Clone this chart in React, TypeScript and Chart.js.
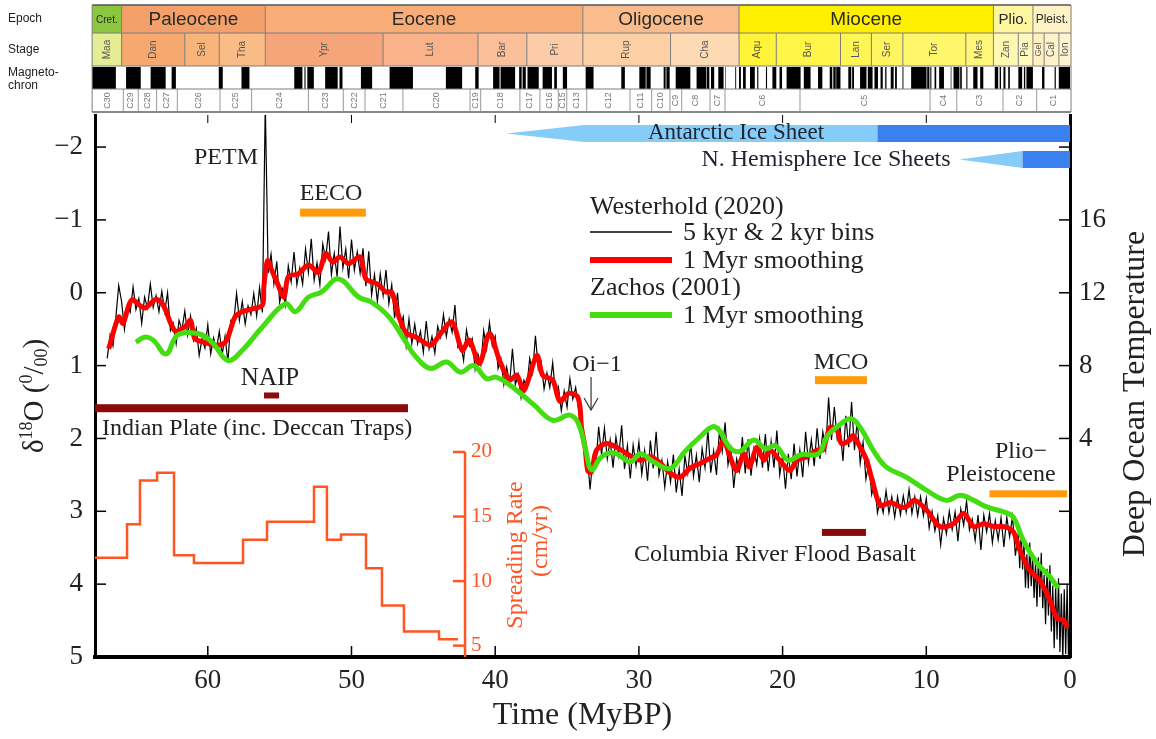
import React, { useEffect, useRef } from 'react';
import { Chart, registerables } from 'chart.js';

Chart.register(...registerables);

const SERIF = '"Liberation Serif", "Times New Roman", "DejaVu Serif", serif';
const SANS = '"Liberation Sans", Arial, "DejaVu Sans", sans-serif';

// ---------------- axes ----------------
const X_MIN = 0;
const X_MAX = 67.85;
const Y_MIN = -2.44;
const Y_MAX = 5;
const S_MIN = 4.12;
const S_MAX = 46.1;
const xTickValues = [60, 50, 40, 30, 20, 10];
const d18TickValues = [-2, -1, 0, 1, 2, 3, 4];
const tempTickAt = [-1, 0, 1, 2];
const tempTickLabels = ['16', '12', '8', '4'];
const spreadTicks = [5, 10, 15, 20];

// ---------------- Westerhold (2020) 5 kyr & 2 kyr bins ----------------
// sampled every 0.2 Myr from 67.0 to 3.6 Ma, then every 0.1 Myr from 3.5 to 0 Ma
const blackMainStart = 67.0;
const blackMainStep = 0.2;
const blackMainV = [
  // 67.0 - 56.2
  0.90, 0.58, 0.73, 0.34, -0.10, 0.12, 0.50, 0.19, 0.27, -0.08,
  0.23, 0.08, 0.42, 0.06, 0.21, -0.12, 0.20, 0.04, 0.26, -0.02,
  0.26, 0.00, 0.52, 0.42, 0.70, 0.38, 0.51, 0.25, 0.58, 0.32,
  0.65, 0.49, 0.86, 0.63, 0.76, 0.44, 0.84, 0.62, 0.78, 0.53,
  0.85, 0.60, 0.95, 0.38, 0.41, 0.01, 0.38, 0.12, 0.43, 0.18,
  0.30, 0.01, 0.32, -0.07, 0.27,
  // 56.0 - 46.0
  -2.60, -0.27, -0.53, -0.12, -0.43, 0.13, -0.05, 0.17, -0.37, -0.15,
  -0.56, -0.11, -0.34, -0.12, -0.60, -0.28, -0.74, -0.17, -0.41, -0.11,
  -0.67, -0.46, -0.84, -0.25, -0.54, -0.22, -0.91, -0.34, -0.60, -0.20,
  -0.73, -0.31, -0.56, -0.27, -0.61, -0.09, -0.57, 0.03, -0.25, 0.12,
  -0.26, 0.04, -0.31, 0.15, -0.11, 0.35, 0.00, 0.47, 0.33, 0.73,
  0.36,
  // 45.8 - 34.0
  0.70, 0.43, 0.70, 0.53, 0.82, 0.39, 0.77, 0.60, 0.83, 0.46,
  0.61, 0.30, 0.60, 0.36, 0.54, 0.17, 0.75, 0.70, 0.93, 0.51,
  0.73, 0.63, 1.05, 0.84, 0.99, 0.52, 0.77, 0.41, 0.73, 0.60,
  1.04, 0.91, 1.26, 1.02, 1.25, 0.77, 1.26, 1.12, 1.44, 1.20,
  1.30, 0.90, 1.10, 0.59, 1.05, 0.95, 1.32, 1.10, 1.30, 0.96,
  1.40, 1.29, 1.62, 1.35, 1.57, 1.18, 1.46, 1.30, 1.60, 1.65,
  // 33.8 - 14.0
  2.20, 2.20, 2.70, 2.26, 2.38, 1.84, 2.22, 1.86, 2.28, 2.02,
  2.40, 1.98, 2.24, 1.82, 2.42, 2.10, 2.55, 2.09, 2.37, 2.05,
  2.49, 2.17, 2.58, 2.03, 2.41, 1.91, 2.50, 2.30, 2.67, 2.32,
  2.60, 2.22, 2.74, 2.42, 2.79, 2.24, 2.48, 2.06, 2.52, 2.23,
  2.60, 2.14, 2.40, 1.88, 2.47, 2.17, 2.50, 1.90, 2.18, 1.78,
  2.36, 2.14, 2.68, 2.28, 2.45, 1.98, 2.48, 2.01, 2.51, 2.14,
  2.36, 2.00, 2.40, 1.94, 2.45, 2.04, 2.40, 1.89, 2.50, 2.24,
  2.69, 2.21, 2.56, 2.07, 2.52, 2.16, 2.53, 1.91, 2.33, 2.02,
  2.38, 1.86, 2.28, 1.91, 2.16, 1.44, 2.02, 1.57, 2.01, 1.85,
  2.31, 1.69, 2.12, 1.50, 2.16, 1.75, 2.34, 2.05, 2.56, 2.33,
  // 13.8 - 3.6
  2.77, 2.60, 3.02, 2.84, 3.02, 2.72, 3.02, 2.80, 3.08, 2.80,
  3.05, 2.79, 3.01, 2.70, 3.03, 2.80, 3.06, 2.80, 3.06, 2.82,
  3.23, 3.00, 3.27, 3.06, 3.46, 3.10, 3.31, 3.00, 3.25, 3.01,
  3.41, 2.97, 3.19, 2.86, 3.26, 3.11, 3.40, 3.05, 3.53, 3.05,
  3.28, 3.03, 3.43, 3.13, 3.39, 3.09, 3.49, 3.08, 3.35, 3.07,
  3.61, 3.30,
];
const blackFineStart = 3.5;
const blackFineStep = 0.1;
const blackFineV = [
  3.78, 3.28, 3.80, 3.44, 4.05, 3.59, 4.06, 3.43, 4.03, 3.60,
  4.19, 3.71, 4.31, 3.63, 4.18, 3.57, 4.33, 3.87, 4.55, 3.79,
  4.43, 3.74, 4.65, 4.02, 4.88, 4.03, 4.76, 3.92, 4.93, 4.13,
  5.05, 4.07, 4.96, 4.00, 5.07, 4.15,
];

// ---------------- Westerhold (2020) 1 Myr smoothing ----------------
const redT = [
  66.9, 66.2, 65.9, 65.3, 64.4, 63.6, 63.1, 62.3, 61.6, 61.2, 60.9, 60.2, 59.5, 58.9, 58.6, 58.1,
  57.6, 56.9, 56.2, 56.1, 55.85, 55.55, 55.2, 54.7, 54.4, 53.7, 53.0, 52.3, 51.8, 51.3, 50.8, 50.2,
  49.4, 49.0, 48.2, 47.6, 47.2, 46.7, 46.2, 45.5, 44.5, 43.8, 43.0, 42.3, 41.8, 41.1, 40.4, 39.7,
  39.0, 38.5, 38.0, 37.1, 36.7, 36.0, 35.5, 34.9, 34.3, 34.1, 34.0, 33.75, 33.55, 33.3, 32.95, 32.25,
  31.4, 30.5, 29.9, 29.2, 28.5, 27.8, 27.1, 26.4, 25.7, 25.05, 24.6, 24.1, 23.7, 23.2, 22.7, 22.3,
  21.8, 21.3, 20.9, 20.2, 19.5, 19.0, 18.3, 17.6, 17.2, 16.7, 16.2, 15.9, 15.3, 15.1, 14.6, 14.15,
  13.7, 13.2, 12.5, 11.8, 11.4, 10.8, 10.0, 9.05, 8.1, 7.4, 6.7, 6.0, 5.3, 4.6, 3.95, 3.5,
  2.8, 2.1, 1.4, 0.9, 0.45, 0.2,
];
const redV = [
  0.77, 0.33, 0.42, 0.10, 0.21, 0.09, 0.17, 0.52, 0.47, 0.38, 0.63, 0.68, 0.72, 0.70, 0.61, 0.33,
  0.26, 0.22, 0.17, -0.08, -0.44, -0.31, -0.15, 0.06, -0.22, -0.26, -0.38, -0.28, -0.54, -0.42, -0.49, -0.40,
  -0.49, -0.19, -0.12, -0.01, -0.01, 0.33, 0.55, 0.61, 0.72, 0.56, 0.40, 0.79, 0.65, 0.97, 0.56, 0.93,
  1.20, 1.13, 1.34, 0.86, 1.13, 1.20, 1.49, 1.38, 1.42, 1.57, 1.84, 2.12, 2.45, 2.46, 2.16, 2.07,
  2.14, 2.25, 2.30, 2.25, 2.34, 2.48, 2.53, 2.40, 2.34, 2.27, 2.23, 2.02, 2.23, 2.44, 2.21, 2.39,
  2.12, 2.30, 2.16, 2.30, 2.44, 2.30, 2.25, 2.16, 2.16, 1.85, 1.89, 2.07, 2.02, 1.96, 2.12, 2.30,
  2.62, 2.92, 2.88, 2.94, 2.94, 2.85, 2.98, 3.21, 3.17, 3.03, 3.21, 3.17, 3.21, 3.21, 3.28, 3.53,
  3.81, 3.95, 4.22, 4.47, 4.49, 4.60,
];

// ---------------- Zachos (2001) 1 Myr smoothing ----------------
const greenT = [
  65.0, 64.4, 63.8, 62.9, 62.1, 60.7, 59.7, 58.6, 57.6, 56.2, 54.6, 53.9, 53.0, 52.1, 50.9, 49.5,
  48.6, 47.4, 46.3, 45.6, 44.5, 43.4, 42.4, 41.5, 40.6, 39.9, 38.5, 37.3, 36.0, 34.8, 34.2, 33.7,
  33.3, 32.6, 31.7, 30.6, 29.9, 29.0, 27.8, 26.8, 25.7, 24.9, 24.4, 23.7, 23.0, 22.0, 21.2, 20.5,
  19.6, 18.7, 17.5, 16.9, 16.2, 15.25, 14.5, 13.7, 12.8, 11.4, 10.0, 8.6, 7.65, 6.7, 5.8, 4.6,
  3.95, 3.25, 2.3, 1.4, 0.8,
];
const greenV = [
  0.68, 0.61, 0.65, 0.84, 0.58, 0.56, 0.68, 0.93, 0.79, 0.47, 0.15, 0.26, 0.06, -0.01, -0.19, 0.06,
  0.13, 0.33, 0.65, 0.86, 1.04, 0.95, 1.09, 1.00, 1.18, 1.16, 1.34, 1.54, 1.75, 1.68, 1.80, 2.16,
  2.43, 2.25, 2.20, 2.32, 2.21, 2.32, 2.41, 2.18, 1.97, 1.84, 1.89, 2.12, 2.18, 2.02, 2.14, 2.10,
  2.30, 2.22, 2.21, 1.97, 1.84, 1.73, 1.88, 2.16, 2.39, 2.53, 2.71, 2.85, 2.78, 2.85, 2.94, 3.01,
  3.08, 3.40, 3.71, 3.90, 4.06,
];

// ---------------- Indian plate spreading rate (cm/yr) ----------------
// each value holds from its start time until the next start time
const spreadT = [67.85, 65.62, 64.72, 63.53, 62.35, 60.96, 57.55, 55.88, 52.61, 51.71, 50.73, 48.99, 47.88, 46.35, 43.91, 42.59];
const spreadV = [11.8, 14.4, 17.8, 18.4, 12.0, 11.4, 13.2, 14.6, 17.3, 13.2, 13.6, 11.0, 8.1, 6.1, 5.5, 5.5];

// ---------------- geologic time scale ----------------
const epochNames = ['Cret.', 'Paleocene', 'Eocene', 'Oligocene', 'Miocene', 'Plio.', 'Pleist.'];
const epochBounds = [68.05, 66.0, 56.0, 33.9, 23.03, 5.33, 2.58, -0.07];
const epochColors = ['#8CC63F', '#F4A06A', '#F8AC78', '#FABC8C', '#FFF000', '#FFF6A0', '#FFF3C6'];
const stageNames = ['Maa', 'Dan', 'Sel', 'Tha', 'Ypr', 'Lut', 'Bar', 'Pri', 'Rup', 'Cha', 'Aqu', 'Bur', 'Lan', 'Ser', 'Tor', 'Mes', 'Zan', 'Pia', 'Gel', 'Cal', 'Ion'];
const stageBounds = [68.05, 66.0, 61.6, 59.2, 56.0, 47.8, 41.2, 37.8, 33.9, 27.8, 23.03, 20.44, 15.97, 13.82, 11.63, 7.25, 5.33, 3.6, 2.58, 1.8, 0.77, -0.07];
const stageColors = ['#E4EC94', '#F6A86E', '#F8B47A', '#FABC86', '#F6A47A', '#F9B28A', '#FBC09A', '#FCCBA8', '#FDCFA4', '#FDD9B4', '#FFF43A', '#FFF448', '#FFF554', '#FFF560', '#FFF66C', '#FFF67A', '#FFF8B2', '#FFF9BE', '#FFF0C2', '#FFF2CA', '#FFF4D2'];
const chronNames = ['C30', 'C29', 'C28', 'C27', 'C26', 'C25', 'C24', 'C23', 'C22', 'C21', 'C20', 'C19', 'C18', 'C17', 'C16', 'C15', 'C13', 'C12', 'C11', 'C10', 'C9', 'C8', 'C7', 'C6', 'C5', 'C4', 'C3', 'C2', 'C1'];
const chronBounds = [68.05, 65.88, 64.84, 63.56, 62.12, 59.15, 56.95, 53.0, 50.57, 49.06, 46.42, 41.75, 41.01, 38.28, 36.89, 35.61, 35.02, 33.63, 30.62, 29.11, 27.84, 27.02, 25.05, 24.01, 18.79, 9.74, 7.88, 4.66, 2.32, -0.07];
const magNormal: [number, number][] = [
  [0, 0.781], [0.988, 1.072], [1.778, 1.945], [2.581, 3.032], [3.116, 3.207], [3.33, 3.596],
  [4.187, 4.3], [4.493, 4.631], [4.799, 4.896], [4.997, 5.235], [6.033, 6.252], [6.436, 6.733],
  [7.14, 7.212], [7.528, 7.642], [7.695, 8.108], [8.254, 8.3], [8.771, 9.105], [9.311, 9.426],
  [9.647, 9.721], [9.786, 9.937], [9.984, 11.056], [11.592, 11.657], [12.049, 12.174], [12.272, 12.474],
  [12.735, 12.77], [12.82, 12.878], [13.032, 13.183], [13.363, 13.608], [13.739, 14.07], [14.163, 14.609],
  [15.032, 15.16], [15.222, 15.427], [15.974, 16.268], [16.303, 16.472], [16.543, 16.721], [17.235, 17.533],
  [18.056, 18.524], [18.748, 19.722], [20.04, 20.213], [20.439, 20.709], [21.083, 21.159], [21.688, 21.767],
  [21.936, 22.268], [22.564, 22.754], [22.902, 23.03], [23.233, 23.295], [23.962, 24.0], [24.109, 24.474],
  [24.761, 24.984], [25.099, 25.264], [25.304, 25.987], [26.42, 27.439], [27.859, 28.087], [28.141, 28.278],
  [29.183, 29.477], [29.527, 29.97], [30.977, 31.225], [33.157, 33.705], [34.999, 35.294], [35.706, 35.892],
  [36.051, 36.7], [36.969, 37.753], [37.872, 38.093], [38.159, 38.333], [38.615, 39.627], [39.698, 40.145],
  [41.154, 41.39], [42.301, 43.432], [45.724, 47.349], [48.566, 49.344], [50.628, 50.835], [50.961, 51.833],
  [52.62, 53.074], [53.199, 53.274], [53.416, 53.983], [57.101, 57.656], [58.959, 59.237], [62.221, 62.517],
  [62.933, 63.978], [64.667, 65.688], [66.398, 68.05],
];

// ---------------- events (Ma) ----------------
const antarcticSheet = [39.2, 33.8, 13.4]; // tip, full width, permanent
const nhSheet = [7.7, 3.3];
const eecoRange = [53.58, 49.0];
const mcoRange = [17.75, 14.13];
const plioRange = [5.6, 0.2];
const naipRange = [56.09, 55.04];
const indianRange = [67.85, 46.07];
const columbiaRange = [17.26, 14.2];
const oi1Time = 33.33;
const spreadAxisTime = 42.1;

const pts = (t: number[], v: number[]) => t.map((x, i) => ({ x, y: v[i] }));

function txt(ctx: any, s: string, x: number, y: number, font: string, color: string, align: string = 'center') {
  ctx.font = font;
  ctx.fillStyle = color;
  ctx.textAlign = align;
  ctx.textBaseline = 'middle';
  ctx.fillText(s, x, y);
}
function vtxt(ctx: any, s: string, x: number, y: number, font: string, color: string) {
  ctx.save();
  ctx.translate(x, y);
  ctx.rotate(-Math.PI / 2);
  txt(ctx, s, 0, 0, font, color, 'center');
  ctx.restore();
}
function line(ctx: any, x0: number, y0: number, x1: number, y1: number, color: string, w: number) {
  ctx.beginPath();
  ctx.strokeStyle = color;
  ctx.lineWidth = w;
  ctx.moveTo(x0, y0);
  ctx.lineTo(x1, y1);
  ctx.stroke();
}

const decorPlugin = {
  id: 'decor',
  afterDraw(chart: any) {
    const ctx = chart.ctx;
    const xs = chart.scales.x;
    const ys = chart.scales.y;
    const ss = chart.scales.yS;
    const area = chart.chartArea;
    const X = (t: number) => xs.getPixelForValue(t);
    const Y = (d: number) => ys.getPixelForValue(d);
    ctx.save();

    // ---------- time scale band ----------
    const r0 = 5, r1 = 33, r2 = 66, r3 = 89, r4 = 112;
    const xL = X(68.05), xR = X(-0.07);
    ctx.fillStyle = '#fff';
    ctx.fillRect(xL, r2, xR - xL, r4 - r2);
    for (let i = 0; i < epochNames.length; i++) {
      const a = X(epochBounds[i]), b = X(epochBounds[i + 1]);
      ctx.fillStyle = epochColors[i];
      ctx.fillRect(a, r0, b - a, r1 - r0);
      const fs = i === 0 ? 10 : i === 5 ? 15 : i === 6 ? 12 : 19;
      txt(ctx, epochNames[i], (a + b) / 2, (r0 + r1) / 2 + 1, `${fs}px ${SANS}`, '#2a2a2a');
    }
    for (let i = 0; i < stageNames.length; i++) {
      const a = X(stageBounds[i]), b = X(stageBounds[i + 1]);
      ctx.fillStyle = stageColors[i];
      ctx.fillRect(a, r1, b - a, r2 - r1);
      vtxt(ctx, stageNames[i], (a + b) / 2, (r1 + r2) / 2, `${b - a < 12 ? 9 : 10}px ${SANS}`, '#555');
    }
    ctx.fillStyle = '#000';
    for (const [y0, o0] of magNormal) {
      const a = X(Math.min(o0, 68.05)), b = X(Math.max(y0, -0.07));
      ctx.fillRect(a, r2 + 1, b - a, r3 - r2 - 1);
    }
    for (let i = 0; i < chronNames.length; i++) {
      const a = X(chronBounds[i]), b = X(chronBounds[i + 1]);
      vtxt(ctx, chronNames[i], (a + b) / 2, (r3 + r4) / 2, `9px ${SANS}`, '#777');
      if (i > 0) line(ctx, a, r3, a, r4, '#999', 1);
    }
    const g = '#7d7d7d';
    line(ctx, xL, r0, xR, r0, '#555', 1.5);
    line(ctx, xL, r1, xR, r1, g, 1);
    line(ctx, xL, r2, xR, r2, g, 1);
    line(ctx, xL, r3, xR, r3, g, 1);
    line(ctx, xL, r4, xR, r4, '#888', 2);
    line(ctx, xL, r0, xL, r4, g, 1);
    line(ctx, xR, r0, xR, r4, g, 1);
    for (let i = 1; i < epochBounds.length - 1; i++) line(ctx, X(epochBounds[i]), r0, X(epochBounds[i]), r1, g, 1);
    for (let i = 1; i < stageBounds.length - 1; i++) line(ctx, X(stageBounds[i]), r1, X(stageBounds[i]), r2, g, 1);
    txt(ctx, 'Epoch', 8, 19, `12px ${SANS}`, '#222', 'left');
    txt(ctx, 'Stage', 8, 50, `12px ${SANS}`, '#222', 'left');
    txt(ctx, 'Magneto-', 8, 73, `12px ${SANS}`, '#222', 'left');
    txt(ctx, 'chron', 8, 86, `12px ${SANS}`, '#222', 'left');

    // ---------- ice sheets ----------
    const light = '#86CCF8', dark = '#3A80EE';
    const aT = 125, aB = 142, aM = (aT + aB) / 2;
    ctx.fillStyle = light;
    ctx.beginPath();
    ctx.moveTo(X(antarcticSheet[0]), aM);
    ctx.lineTo(X(antarcticSheet[1]), aT);
    ctx.lineTo(X(antarcticSheet[2]), aT);
    ctx.lineTo(X(antarcticSheet[2]), aB);
    ctx.lineTo(X(antarcticSheet[1]), aB);
    ctx.closePath();
    ctx.fill();
    ctx.fillStyle = dark;
    ctx.fillRect(X(antarcticSheet[2]), aT, area.right - X(antarcticSheet[2]), aB - aT);
    const nT = 151, nB = 168, nM = (nT + nB) / 2;
    ctx.fillStyle = light;
    ctx.beginPath();
    ctx.moveTo(X(nhSheet[0]), nM);
    ctx.lineTo(X(nhSheet[1]), nT);
    ctx.lineTo(X(nhSheet[1]), nB);
    ctx.closePath();
    ctx.fill();
    ctx.fillStyle = dark;
    ctx.fillRect(X(nhSheet[1]), nT, area.right - X(nhSheet[1]), nB - nT);
    txt(ctx, 'Antarctic Ice Sheet', 736, 133, `23px ${SERIF}`, '#1e2430');
    txt(ctx, 'N. Hemisphere Ice Sheets', 826, 160, `24px ${SERIF}`, '#1e2430');

    // ---------- event bars & labels ----------
    const orange = '#FF9A0A', maroon = '#8B0A0A';
    const bar = (r: number[], yc: number, h: number, c: string) => {
      ctx.fillStyle = c;
      ctx.fillRect(X(r[0]), yc - h / 2, X(r[1]) - X(r[0]), h);
    };
    bar(eecoRange, Y(-1.1), 8, orange);
    bar(mcoRange, Y(1.2), 8, orange);
    bar(plioRange, Y(2.76), 7, orange);
    bar(naipRange, Y(1.41), 6, maroon);
    bar(indianRange, Y(1.585), 8, maroon);
    bar(columbiaRange, Y(3.29), 7, maroon);
    const dk = '#222';
    txt(ctx, 'PETM', 226, 158, `24px ${SERIF}`, dk);
    txt(ctx, 'EECO', 331, 194, `24px ${SERIF}`, dk);
    txt(ctx, 'NAIP', 270, 378, `25px ${SERIF}`, dk);
    txt(ctx, 'Indian Plate (inc. Deccan Traps)', 102, 429, `24px ${SERIF}`, dk, 'left');
    txt(ctx, 'Oi\u22121', 597, 365, `24px ${SERIF}`, dk);
    txt(ctx, 'MCO', 841, 363, `24px ${SERIF}`, dk);
    txt(ctx, 'Columbia River Flood Basalt', 775, 555, `24px ${SERIF}`, dk);
    txt(ctx, 'Plio\u2212', 1021, 452, `24px ${SERIF}`, dk);
    txt(ctx, 'Pleistocene', 1001, 475, `24px ${SERIF}`, dk);
    const ox = X(oi1Time);
    line(ctx, ox, 377, ox, 409, '#333', 1.2);
    ctx.beginPath();
    ctx.moveTo(ox - 7, 398);
    ctx.lineTo(ox, 410);
    ctx.lineTo(ox + 7, 398);
    ctx.stroke();

    // ---------- legend ----------
    const lf = `26px ${SERIF}`;
    txt(ctx, 'Westerhold (2020)', 590, 207, lf, dk, 'left');
    line(ctx, 590, 232, 672, 232, '#000', 1.5);
    txt(ctx, '5 kyr & 2 kyr bins', 683, 233, lf, dk, 'left');
    line(ctx, 590, 260, 672, 260, '#FF0000', 6);
    txt(ctx, '1 Myr smoothing', 683, 261, lf, dk, 'left');
    txt(ctx, 'Zachos (2001)', 590, 288, lf, dk, 'left');
    line(ctx, 590, 315, 672, 315, '#44DD11', 6);
    txt(ctx, '1 Myr smoothing', 683, 316, lf, dk, 'left');

    // ---------- spreading-rate inset axis ----------
    const sc = '#FF5522';
    const sx = X(spreadAxisTime);
    line(ctx, sx, ss.getPixelForValue(20), sx, area.bottom, sc, 2.5);
    for (const v of spreadTicks) {
      const y = ss.getPixelForValue(v);
      line(ctx, sx - 12, y, sx, y, sc, 2.5);
      txt(ctx, String(v), sx + 6, y, `21px ${SERIF}`, sc, 'left');
    }
    vtxt(ctx, 'Spreading Rate', 516, 555, `24px ${SERIF}`, sc);
    vtxt(ctx, '(cm/yr)', 541, 541, `24px ${SERIF}`, sc);

    // ---------- inward tick marks ----------
    for (const v of d18TickValues) {
      line(ctx, area.left, Y(v), area.left + 11, Y(v), '#000', 1.5);
      line(ctx, area.right - 11, Y(v), area.right, Y(v), '#000', 1.5);
    }
    for (const t of xTickValues) {
      line(ctx, X(t), area.bottom, X(t), area.bottom - 11, '#000', 1.5);
      line(ctx, X(t), area.top, X(t), area.top + 8, '#000', 1);
    }

    // ---------- axis titles ----------
    ctx.save();
    ctx.translate(33, 396);
    ctx.rotate(-Math.PI / 2);
    const big = `29px ${SERIF}`, small = `18px ${SERIF}`;
    const parts: [string, string, number][] = [
      ['\u03b4', big, 0], ['18', small, -11], ['O (', big, 0], ['0', small, -11], ['/', big, 0], ['00', small, 4], [')', big, 0],
    ];
    let w = 0;
    for (const p of parts) { ctx.font = p[1]; w += ctx.measureText(p[0]).width; }
    let cx = -w / 2;
    ctx.fillStyle = dk;
    ctx.textAlign = 'left';
    ctx.textBaseline = 'alphabetic';
    for (const p of parts) {
      ctx.font = p[1];
      ctx.fillText(p[0], cx, 10 + p[2]);
      cx += ctx.measureText(p[0]).width;
    }
    ctx.restore();
    vtxt(ctx, 'Deep Ocean Temperature', 1136, 394, `32px ${SERIF}`, dk);

    ctx.restore();
  },
};

export default function App() {
  const ref = useRef<HTMLCanvasElement>(null);
  useEffect(() => {
    const blackT = [
      ...blackMainV.map((_, i) => Math.round((blackMainStart - blackMainStep * i) * 10) / 10),
      ...blackFineV.map((_, i) => Math.round((blackFineStart - blackFineStep * i) * 10) / 10),
    ];
    const blackV = [...blackMainV, ...blackFineV];
    const tickFont = { family: SERIF, size: 27 };
    const chart = new Chart(ref.current as HTMLCanvasElement, {
      type: 'line',
      data: {
        datasets: [
          { data: pts(greenT, greenV), borderColor: '#44DD11', borderWidth: 5, pointRadius: 0, tension: 0.4, xAxisID: 'x', yAxisID: 'y' },
          { data: pts(redT, redV), borderColor: '#FF0000', borderWidth: 5, pointRadius: 0, tension: 0.3, xAxisID: 'x', yAxisID: 'y' },
          { data: pts(blackT, blackV), borderColor: '#000000', borderWidth: 1.2, pointRadius: 0, tension: 0, xAxisID: 'x', yAxisID: 'y' },
          { data: pts(spreadT, spreadV), borderColor: '#FF5522', borderWidth: 2.5, pointRadius: 0, stepped: 'before', xAxisID: 'x', yAxisID: 'yS' },
        ],
      } as any,
      options: {
        responsive: false,
        animation: false,
        devicePixelRatio: 1,
        layout: { padding: { top: 115, left: 0, right: 0, bottom: 0 } },
        plugins: { legend: { display: false }, tooltip: { enabled: false }, title: { display: false } },
        scales: {
          x: {
            type: 'linear', position: 'bottom', reverse: true, min: X_MIN, max: X_MAX,
            afterFit: (s: any) => { s.height = 82; },
            grid: { display: false, drawTicks: false },
            border: { display: true, color: '#000', width: 4 },
            ticks: { stepSize: 10, includeBounds: false, padding: 8, font: tickFont, color: '#222', maxRotation: 0, autoSkip: false },
            title: { display: true, text: 'Time (MyBP)', font: { family: SERIF, size: 32 }, color: '#222', padding: { top: 0, bottom: 4 } },
          },
          y: {
            type: 'linear', position: 'left', reverse: true, min: Y_MIN, max: Y_MAX,
            afterFit: (s: any) => { s.width = 95; },
            grid: { display: false, drawTicks: false },
            border: { display: true, color: '#000', width: 3 },
            ticks: {
              stepSize: 1, includeBounds: false, padding: 12, font: tickFont, color: '#222',
              callback: (v: any) => (v < 0 ? '\u2212' + Math.abs(v) : String(v)),
            },
          },
          yR: {
            type: 'linear', position: 'right', reverse: true, min: Y_MIN, max: Y_MAX,
            afterFit: (s: any) => { s.width = 86; },
            grid: { display: false, drawTicks: false },
            border: { display: true, color: '#000', width: 3 },
            ticks: {
              stepSize: 1, includeBounds: false, padding: 9, font: tickFont, color: '#222',
              callback: (v: any) => { const i = tempTickAt.indexOf(v); return i >= 0 ? tempTickLabels[i] : ''; },
            },
          },
          yS: { type: 'linear', display: false, min: S_MIN, max: S_MAX },
        },
      } as any,
      plugins: [decorPlugin],
    });
    return () => chart.destroy();
  }, []);
  return (
    <div style={{ position: 'absolute', left: 0, top: 0, width: 1156, height: 739, background: '#fff' }}>
      <canvas ref={ref} width={1156} height={739} style={{ display: 'block', width: 1156, height: 739 }} />
    </div>
  );
}
